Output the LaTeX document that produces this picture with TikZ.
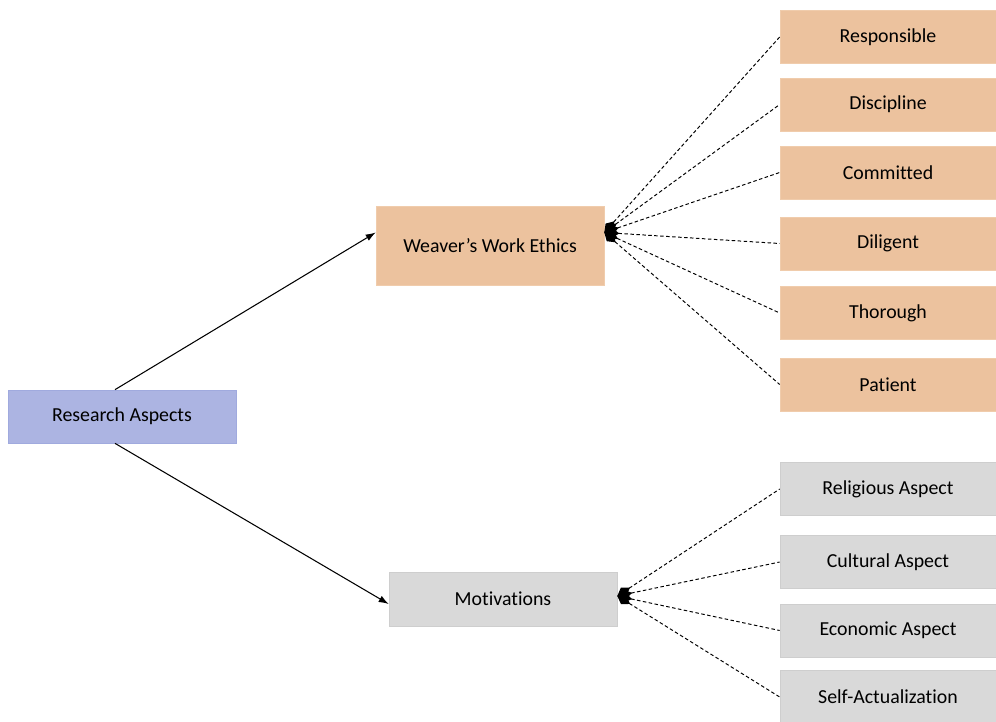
\documentclass[tikz,border=0pt]{standalone}
\usepackage{fontspec}
\setmainfont{Carlito}[Ligatures=NoCommon]
\usetikzlibrary{arrows.meta}

\definecolor{ethicfill}{RGB}{236,194,158}
\definecolor{ethicline}{RGB}{240,204,172}
\definecolor{motfill}{RGB}{217,217,217}
\definecolor{motline}{RGB}{206,206,206}
\definecolor{rafill}{RGB}{172,180,226}
\definecolor{raline}{RGB}{160,170,222}

\tikzset{
    box/.style={rectangle, inner sep=0pt, font=\fontsize{11.3}{13}\selectfont},
    ethicbox/.style={box, fill=ethicfill, draw=ethicline, minimum width=4.32cm, minimum height=1.06cm},
    motbox/.style={box, fill=motfill, draw=motline, minimum width=4.32cm, minimum height=1.06cm},
    link/.style={dash pattern=on 2pt off 1.4pt, line width=0.55pt, {Diamond[length=3mm,width=2mm]}-},
    main/.style={-{Latex[length=2mm,width=1.4mm]}, semithick}
}

\begin{document}
\begin{tikzpicture}[x=0.02cm, y=-0.02cm]
    \useasboundingbox (0,0) rectangle (996,722);

    % Main boxes
    \node[box, fill=rafill, draw=raline, minimum width=4.56cm, minimum height=1.06cm] (ra) at (122,416.5) {Research Aspects};
    \node[box, fill=ethicfill, draw=ethicline, minimum width=4.56cm, minimum height=1.58cm] (wwe) at (490,245.5) {Weaver’s Work Ethics};
    \node[box, fill=motfill, draw=motline, minimum width=4.56cm, minimum height=1.08cm] (mot) at (503,599) {Motivations};

    % Work ethics
    \node[ethicbox] (resp) at (888,37) {Responsible};
    \node[ethicbox] (disc) at (888,104.5) {Discipline};
    \node[ethicbox] (comm) at (888,172.5) {Committed};
    \node[ethicbox] (dili) at (888,243.5) {Diligent};
    \node[ethicbox] (thor) at (888,313) {Thorough};
    \node[ethicbox] (pati) at (888,384.5) {Patient};

    % Motivations
    \node[motbox] (reli) at (888,489) {Religious Aspect};
    \node[motbox] (cult) at (888,562) {Cultural Aspect};
    \node[motbox] (econ) at (888,630.5) {Economic Aspect};
    \node[motbox] (self) at (888,697) {Self-Actualization};

    % Arrows
    \draw[main] ([xshift=-0.14cm]ra.north) -- ([yshift=0.26cm]wwe.west);
    \draw[main] ([xshift=-0.14cm]ra.south) -- ([yshift=-0.1cm]mot.west);

    % Dashed links
    \foreach \t in {resp,disc,comm,dili,thor,pati}
        \draw[link] ([yshift=0.26cm]wwe.east) -- (\t.west);
    \foreach \t in {reli,cult,econ,self}
        \draw[link] ([yshift=0.06cm]mot.east) -- (\t.west);
\end{tikzpicture}
\end{document}
